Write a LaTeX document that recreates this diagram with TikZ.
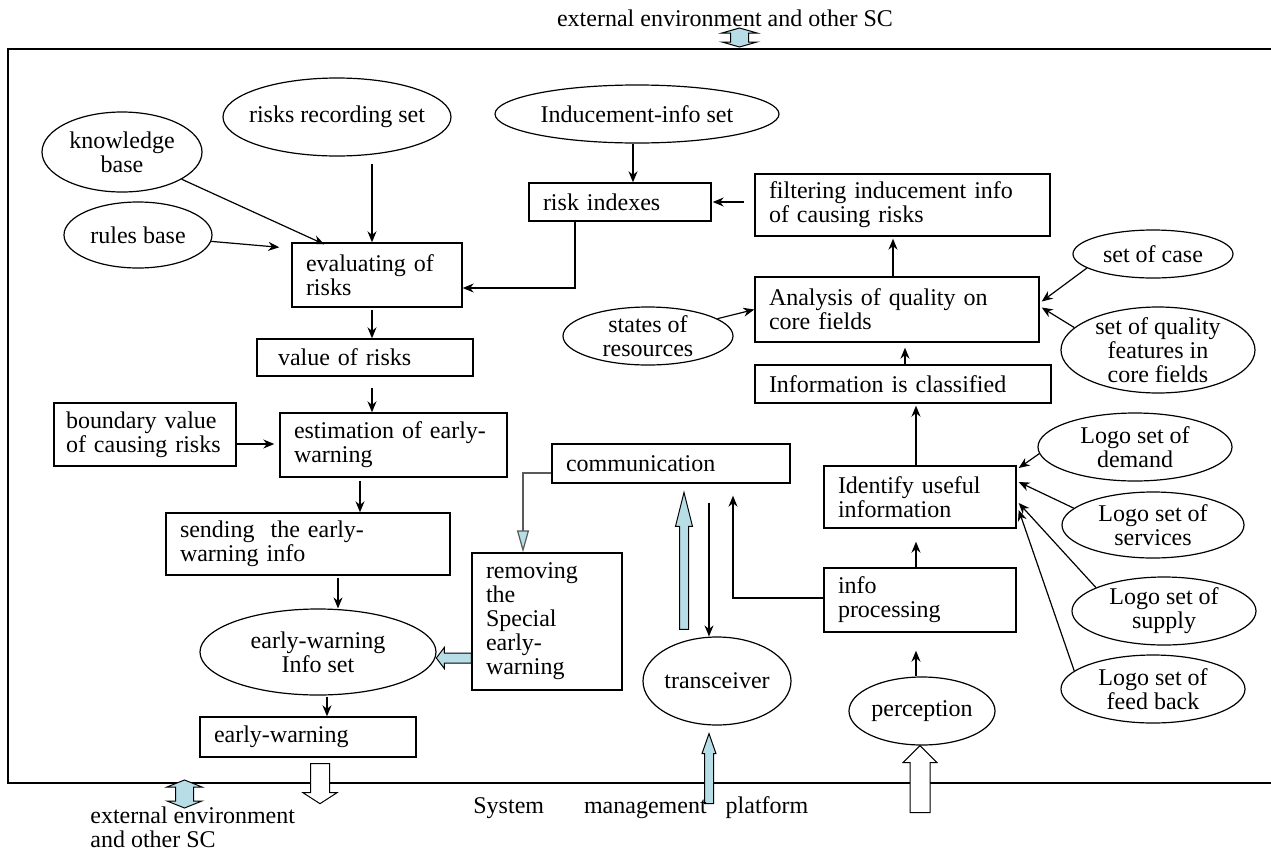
\documentclass[tikz,border=0pt]{standalone}
\usepackage{fontspec}
\setmainfont{Liberation Serif}
\usetikzlibrary{arrows.meta, shapes.geometric, calc}
\definecolor{ArrowBlue}{RGB}{183,222,230}
\definecolor{LineGray}{RGB}{90,90,90}
\tikzstyle{box} = [draw, rectangle, line width=0.7pt, align=left, inner xsep=7pt, inner ysep=0pt]
\tikzstyle{oval} = [draw, ellipse, line width=0.6pt, align=center, inner sep=-6pt]
\tikzstyle{arrow} = [line width=0.6pt, ->, >={Stealth[length=5.5pt,width=4.5pt]}]
\tikzstyle{hollow} = [line width=0.6pt, LineGray, -{Triangle[length=11pt,width=6pt,fill=ArrowBlue]}]
\tikzset{
  pics/blockarrow/.style n args={5}{code={
    \filldraw[line width=0.5pt, fill=#5] (-#2,0) -- (-#2,-#1+#4) -- (-#3,-#1+#4) -- (0,-#1)
      -- (#3,-#1+#4) -- (#2,-#1+#4) -- (#2,0) -- cycle;
  }},
  pics/blockdouble/.style n args={5}{code={
    \filldraw[line width=0.5pt, fill=#5] (0,0) -- (#3,#4) -- (#2,#4) -- (#2,#1-#4) -- (#3,#1-#4)
      -- (0,#1) -- (-#3,#1-#4) -- (-#2,#1-#4) -- (-#2,#4) -- (-#3,#4) -- cycle;
  }}
}

\begin{document}
\begin{tikzpicture}[x=0.5pt, y=-0.5pt, font=\fontsize{12}{12}\selectfont]
        \useasboundingbox (0,0) rectangle (1271,852);

        % Frame
        \draw[line width=0.8pt] (1271,49) -- (8,49) -- (8,783) -- (1271,783);
        \node[inner sep=0] (toptext) at (725,18) {external environment and other SC};
        \pic at (739.5,28) {blockdouble={19}{9}{17.5}{5}{ArrowBlue}};

        % Bases and sets
        \node[oval, minimum width=80pt, minimum height=40pt] (knowledge) at (122,152) {knowledge\\base};
        \node[oval, minimum width=114pt, minimum height=39pt] (riskrec) at (337,117) {risks recording set};
        \node[oval, minimum width=142pt, minimum height=29pt] (inducement) at (637,114) {Inducement-info set};
        \node[oval, minimum width=74pt, minimum height=33pt] (rules) at (138,235) {rules base};
        \node[oval, minimum width=80pt, minimum height=24pt] (setcase) at (1153,254) {set of case};
        \node[oval, minimum width=85pt, minimum height=29pt] (states) at (648,336) {states of\\resources};
        \node[oval, minimum width=97pt, minimum height=43pt] (quality) at (1158,350) {set of quality\\features in\\core fields};
        \node[oval, minimum width=97pt, minimum height=34pt] (demand) at (1135,447) {Logo set of\\demand};
        \node[oval, minimum width=91pt, minimum height=33pt] (services) at (1153,525) {Logo set of\\services};
        \node[oval, minimum width=92pt, minimum height=34pt] (supply) at (1164,611) {Logo set of\\supply};
        \node[oval, minimum width=92pt, minimum height=34pt] (feedback) at (1153,689) {Logo set of\\feed back};
        \node[oval, minimum width=118pt, minimum height=43pt] (infoset) at (318,652) {early-warning\\Info set};
        \node[oval, minimum width=74pt, minimum height=44pt] (transceiver) at (717,681) {transceiver};
        \node[oval, minimum width=73pt, minimum height=34pt] (perception) at (922,711) {perception};

        % Steps
        \node[box, text width=77pt, minimum height=19pt] (riskidx) at (620,202) {risk indexes};
        \node[box, text width=133.5pt, minimum height=31pt] (filter) at (902.5,205) {filtering inducement info\\of causing risks};
        \node[box, text width=71pt, minimum height=32pt] (eval) at (377,275) {evaluating of\\risks};
        \node[box, text width=94pt, minimum height=18.5pt] (value) at (365,357.5) {\hspace*{3.5pt}value of risks};
        \node[box, text width=128pt, minimum height=32.5pt] (analysis) at (897,309.5) {Analysis of quality on\\core fields};
        \node[box, text width=134pt, minimum height=19pt] (classified) at (903,384) {Information is classified};
        \node[box, text width=79pt, inner xsep=6pt, minimum height=31.5pt] (boundary) at (145,434.5) {\mbox{boundary value}\\\mbox{of causing risks}};
        \node[box, text width=99.5pt, minimum height=32pt] (estimation) at (393.5,445) {\mbox{estimation of early-}\\warning};
        \node[box, text width=105pt, minimum height=19.5pt] (communication) at (671,463.5) {communication};
        \node[box, text width=82pt, minimum height=31pt] (identify) at (920,497) {Identify useful\\information};
        \node[box, text width=128pt, minimum height=31pt] (sending) at (308,544) {sending\ \ the early-\\warning info};
        \node[box, text width=61pt, minimum height=68.5pt] (removing) at (547,621.5) {removing\\the\\Special\\early-\\warning};
        \node[box, text width=82pt, minimum height=32pt] (info) at (920,600) {info\\processing};
        \node[box, text width=94pt, minimum height=20pt] (earlywarn) at (308,737) {early-warning};

        % Connectors, left side
        \draw[arrow] (knowledge) -- ($(eval.north west)+(33,2)$);
        \draw[arrow] (rules) -- ($(eval.north west)+(-12,5)$);
        \draw[arrow] ($(riskrec.south)+(35,7)$) -- ($(eval.north)+(-5,0)$);
        \draw[arrow] ($(eval.south)+(-5,2)$) -- ($(value.north)+(7,0)$);
        \draw[arrow] ($(value.south)+(7,11)$) -- ($(estimation.north)+(-21.5,0)$);
        \draw[arrow] ($(boundary.east)+(0,9.5)$) -- ($(estimation.west)+(-5,-1)$);
        \draw[arrow] ($(estimation.south)+(-33.5,3)$) -- ($(sending.north)+(52,0)$);
        \draw[arrow] ($(sending.south)+(30,2)$) -- ($(infoset.north)+(20,0)$);
        \draw[arrow] ($(infoset.south)+(9,1)$) -- ($(earlywarn.north)+(19,0)$);

        % Connectors, top
        \draw[arrow] ($(inducement.south)+(-4,0)$) -- ($(riskidx.north)+(13,0)$);
        \draw[arrow] ($(filter.west)+(-10,-3)$) -- ($(riskidx.east)+(1,0)$);
        \draw[arrow] ($(riskidx.south)+(-45,0)$) |- ($(eval.east)+(0,13)$);
        \draw[arrow] ($(analysis.north)+(-4,0)$) -- ($(filter.south)+(-9.5,2)$);
        \draw[arrow] (states) -- (analysis.west);
        \draw[arrow] (setcase.192) -- ($(analysis.east)+(2,-8)$);
        \draw[arrow] (quality.165) -- ($(analysis.east)+(2,-2)$);
        \draw[arrow] ($(classified.north)+(2,0)$) -- ($(analysis.south)+(8,5)$);
        \draw[arrow] ($(identify.north)+(-4,0)$) -- ($(classified.south)+(13,2)$);

        % Connectors, right side
        \draw[arrow] ($(info.north)+(-4,0)$) -- ($(identify.south)+(-4,13)$);
        \draw[arrow] ($(perception.north)+(-6,0)$) -- ($(info.south)+(-4,18)$);
        \draw[arrow] (demand.184) -- ($(identify.east)+(2,-29)$);
        \draw[arrow] (services.168) -- ($(identify.east)+(2,-15)$);
        \draw[arrow] (supply.161) -- ($(identify.east)+(2,6)$);
        \draw[arrow] (feedback.167) -- ($(identify.east)+(2,13)$);

        % Connectors, middle
        \draw[arrow] ($(info.west)+(0,-2)$) -| ($(communication.south)+(62,12)$);
        \draw[arrow] ($(communication.south)+(38,19)$) -- ($(transceiver.north)+(-8,0)$);
        \draw[hollow] ($(communication.west)+(0,9.5)$) -| ($(removing.north)+(-24,0)$);

        % Block arrows
        \pic at ($(transceiver.north)+(-33,-7)$) {blockarrow={137}{4.5}{8.5}{34}{ArrowBlue}};
        \pic at ($(transceiver.south)+(-8,78)$) {blockarrow={70}{4.5}{7}{20}{ArrowBlue}};
        \pic at ($(perception.south)+(-2,67)$) {blockarrow={67}{10}{17}{17}{white}};
        \pic[rotate=180] at ($(earlywarn.south)+(12,6)$) {blockarrow={40}{9.5}{17}{11}{white}};
        \pic[rotate=90] at ($(removing.west)+(0,36.5)$) {blockarrow={35}{5}{10.5}{8}{ArrowBlue}};
        \pic at (184.5,780) {blockdouble={28}{9}{17.5}{7}{ArrowBlue}};

        % Outside labels
        \node[inner sep=0, anchor=west, align=left] (sctext) at (90,827) {external environment\\and other SC};
        \node[inner sep=0, anchor=west] (platform) at (473,808) {System\hspace{20pt}management\hspace{9.5pt}platform};

      \end{tikzpicture}
\end{document}
